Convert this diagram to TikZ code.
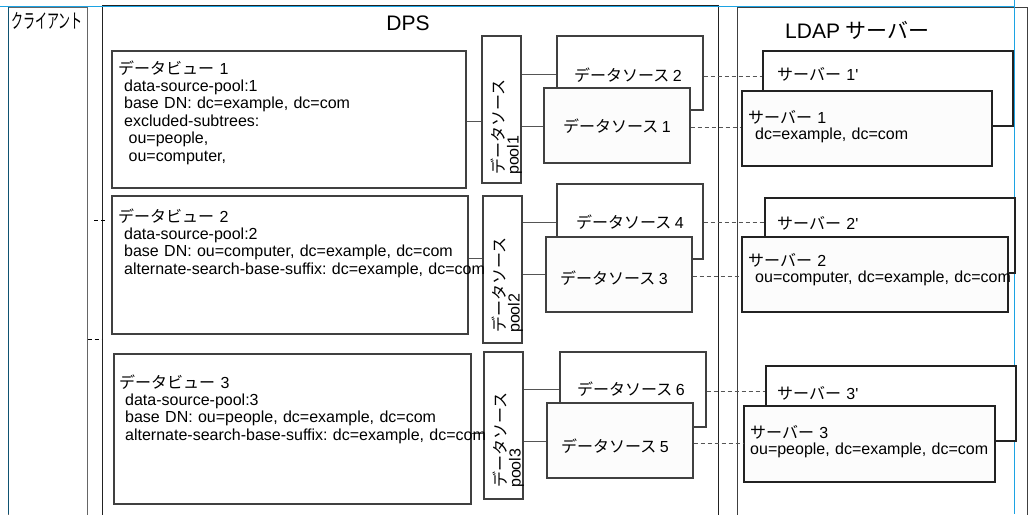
\documentclass[tikz,border=0pt]{standalone}
\usepackage{fontspec}
\setmainfont{Liberation Sans}
\newfontfamily\jp{Noto Sans CJK JP}
\usetikzlibrary{fit}
\definecolor{boxc}{HTML}{404040}
\definecolor{colc}{HTML}{222222}
\definecolor{linec}{HTML}{555555}
\definecolor{bluec}{HTML}{1CA3E3}
\definecolor{frontfill}{HTML}{FCFCFC}
\frenchspacing
\begin{document}
\begin{tikzpicture}[x=1pt,y=-1pt,
  box/.style={draw=boxc, line width=1.1pt, fill=white, inner sep=0pt},
  frontbox/.style={box, fill=frontfill},
  column/.style={draw=colc, line width=1pt, inner sep=0pt},
  conn/.style={draw=linec, line width=1pt},
  dconn/.style={draw=linec, line width=1pt, dash pattern=on 4pt off 3pt},
  txt/.style={inner sep=0pt, font=\fontsize{16}{17.4}\selectfont, text width=420pt, align=left, anchor=base west},
  srvtxt/.style={txt, font=\fontsize{16}{16.5}\selectfont},
  pooltxt/.style={inner sep=0pt, font=\fontsize{16}{14.5}\selectfont, text width=150pt, align=left, anchor=base west, rotate=90},
  dstxt/.style={inner sep=0pt, font=\fontsize{16}{17}\selectfont\jp}
]
\useasboundingbox (0,0) rectangle (1032,514);
\clip (0,0) rectangle (1032,514);
\fill[white] (0,0) rectangle (1032,514);

% columns
\node[column, draw=gray!80!black, fit={(8,7) (87,530)}] (client) {};
\node[column, fit={(102,5) (718,530)}] (dps) {};
\node[column, draw=boxc, fit={(737,7) (1027,530)}] (ldap) {};
\draw[bluec, line width=1pt] (0,6) -- (1014,6);
\draw[bluec, line width=1pt] (1014,0) -- (1014,514);
\draw[bluec!50!black, line width=1pt] (8,7) -- (8,514);

\node[inner sep=0pt, anchor=north west, font=\fontsize{20}{20}\selectfont\jp] (clientlabel) at (11,12) {\scalebox{0.6}[1]{クライアント}};
\node[inner sep=0pt, font=\fontsize{21}{21}\selectfont] (dpslabel) at (408,23) {DPS};
\node[inner sep=0pt, anchor=west, font=\fontsize{21}{21}\selectfont] (ldaplabel) at (785,30) {LDAP {\jp サーバー}};

% data views
\node[box, fit={(112,51) (466,188)}] (view1) {};
\node[box, fit={(112,196) (468,334)}] (view2) {};
\node[box, fit={(114,354) (471,504)}] (view3) {};

% pools
\node[box, fit={(482,36) (521,183)}] (pool1) {};
\node[box, fit={(483,196) (522,343)}] (pool2) {};
\node[box, fit={(484,352) (523,499)}] (pool3) {};

% data sources
\node[box, fit={(557,36) (703,110)}] (ds2) {};
\node[frontbox, fit={(544,88) (690,163)}] (ds1) {};
\node[box, fit={(557,184) (703,259)}] (ds4) {};
\node[frontbox, fit={(546,237) (692,312)}] (ds3) {};
\node[box, fit={(560,352) (706,427)}] (ds6) {};
\node[frontbox, fit={(547,403) (693,478)}] (ds5) {};

% servers
\node[box, draw=colc, fit={(763,51) (1013,126)}] (srv1b) {};
\node[frontbox, draw=colc, fit={(742,91) (992,166)}] (srv1) {};
\node[box, draw=colc, fit={(765,198) (1015,273)}] (srv2b) {};
\node[frontbox, draw=colc, fit={(742,237) (1008,312)}] (srv2) {};
\node[box, draw=colc, fit={(766,366) (1016,441)}] (srv3b) {};
\node[frontbox, draw=colc, fit={(744,406) (995,482)}] (srv3) {};

% connectors view -> pool
\draw[conn] (view1.east |- 0,121) -- (pool1.west |- 0,121);
\draw[conn] (view2.east |- 0,258) -- (pool2.west |- 0,258);
\draw[conn] (view3.east |- 0,433) -- (pool3.west |- 0,433);
% pool -> data sources
\draw[conn] (pool1.east |- 0,74) -- (ds2.west |- 0,74);
\draw[conn] (pool1.east |- 0,126) -- (ds1.west |- 0,126);
\draw[conn] (pool2.east |- 0,222) -- (ds4.west |- 0,222);
\draw[conn] (pool2.east |- 0,274) -- (ds3.west |- 0,274);
\draw[conn] (pool3.east |- 0,389) -- (ds6.west |- 0,389);
\draw[conn] (pool3.east |- 0,441) -- (ds5.west |- 0,441);
% data sources -> servers
\draw[dconn] (ds2.east |- 0,76) -- (srv1b.west |- 0,76);
\draw[dconn] (ds1.east |- 0,127) -- (srv1.west |- 0,127);
\draw[dconn] (ds4.east |- 0,222) -- (srv2b.west |- 0,222);
\draw[dconn] (ds3.east |- 0,276) -- (srv2.west |- 0,276);
\draw[dconn] (ds6.east |- 0,391) -- (srv3b.west |- 0,391);
\draw[dconn] (ds5.east |- 0,443) -- (srv3.west |- 0,443);
% client dashes
\coordinate (cd1a) at (94,220);
\coordinate (cd1b) at (107,220);
\draw[dconn, draw=black] (cd1a) -- (cd1b);
\draw[dconn, draw=black] (client.east |- 0,339) -- (dps.west |- 0,339);

% view texts
\node[txt] (view1txt) at (118,74) {{\jp データビュー} 1\\
\hspace*{6pt}data-source-pool:1\\
\hspace*{6pt}base DN: dc=example, dc=com\\
\hspace*{6pt}excluded-subtrees:\\
\hspace*{10.5pt}ou=people,\\
\hspace*{10.5pt}ou=computer,};
\node[txt] (view2txt) at (118,222) {{\jp データビュー} 2\\
\hspace*{6pt}data-source-pool:2\\
\hspace*{6pt}base DN: ou=computer, dc=example, dc=com\\
\hspace*{6pt}alternate-search-base-suffix: dc=example, dc=com};
\node[txt] (view3txt) at (119,388) {{\jp データビュー} 3\\
\hspace*{6pt}data-source-pool:3\\
\hspace*{6pt}base DN: ou=people, dc=example, dc=com\\
\hspace*{6pt}alternate-search-base-suffix: dc=example, dc=com};

% pool texts
\node[pooltxt] (pool1txt) at (504,175) {{\jp データソース}\\pool1};
\node[pooltxt] (pool2txt) at (505,333) {{\jp データソース}\\pool2};
\node[pooltxt] (pool3txt) at (506,488) {{\jp データソース}\\pool3};

% data source texts
\node[dstxt] (ds2txt) at (628,75) {データソース \fontspec{Liberation Sans}2};
\node[dstxt] (ds1txt) at (617,126) {データソース \fontspec{Liberation Sans}1};
\node[dstxt] (ds4txt) at (630,222) {データソース \fontspec{Liberation Sans}4};
\node[dstxt] (ds3txt) at (614,278) {データソース \fontspec{Liberation Sans}3};
\node[dstxt] (ds6txt) at (631,389) {データソース \fontspec{Liberation Sans}6};
\node[dstxt] (ds5txt) at (615,446) {データソース \fontspec{Liberation Sans}5};

% server texts
\node[srvtxt] (srv1btxt) at (777,80) {{\jp サーバー} 1\textquotesingle};
\node[srvtxt] (srv1txt) at (748,123) {{\jp サーバー} 1\\\hspace*{7pt}dc=example, dc=com};
\node[srvtxt] (srv2btxt) at (777,229) {{\jp サーバー} 2\textquotesingle};
\node[srvtxt] (srv2txt) at (748,266) {{\jp サーバー} 2\\\hspace*{7pt}ou=computer, dc=example, dc=com};
\node[srvtxt] (srv3btxt) at (777,399) {{\jp サーバー} 3\textquotesingle};
\node[srvtxt] (srv3txt) at (750,438) {{\jp サーバー} 3\\ou=people, dc=example, dc=com};
\end{tikzpicture}
\end{document}
